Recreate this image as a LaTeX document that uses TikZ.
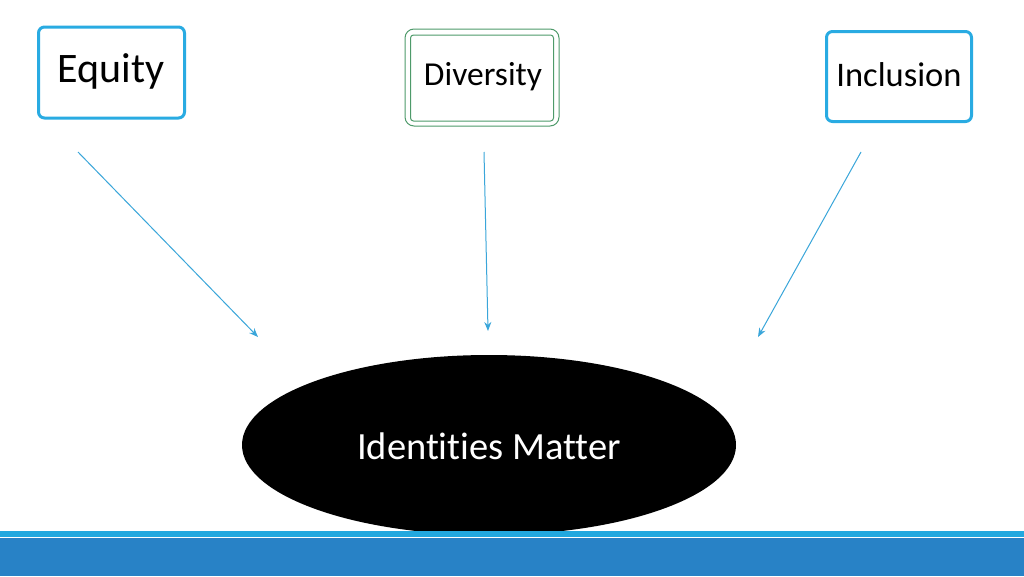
\documentclass[tikz,border=0pt]{standalone}
\usepackage{fontspec}
\setmainfont[Ligatures=NoCommon]{Carlito}
\usetikzlibrary{arrows.meta}
\definecolor{cyanline}{HTML}{29ABE2}
\definecolor{greenline}{HTML}{4E9A6A}
\definecolor{arrowc}{HTML}{3AA6DA}
\definecolor{barblue}{HTML}{2882C6}
\definecolor{barcyan}{HTML}{22A8DF}
\tikzset{
  cyanbox/.style={draw=cyanline, line width=3pt, rounded corners=6pt, fill=white},
  conn/.style={draw=arrowc, line width=1pt, -{Stealth[length=9pt,width=7pt]}},
}
\begin{document}
\begin{tikzpicture}[x=1pt,y=-1pt]
\useasboundingbox (0,0) rectangle (1024,576);
\fill[white] (0,0) rectangle (1024,576);
% boxes
\node[cyanbox, minimum width=146pt, minimum height=91pt, anchor=center] (eq) at (111.5,72.5) {};
\node[font=\fontsize{42}{44}\selectfont, anchor=center] (eqt) at (111,71) {Equity};
\node[draw=greenline, line width=1pt, rounded corners=9pt, minimum width=154pt, minimum height=97pt] (div) at (482,77.5) {};
\node[draw=greenline, line width=1pt, rounded corners=3pt, minimum width=143pt, minimum height=86pt] (divin) at (482,78) {};
\node[font=\fontsize{33.5}{35}\selectfont] (divt) at (483,77) {Diversity};
\node[cyanbox, minimum width=145pt, minimum height=90pt] (inc) at (899,76.5) {};
\node[font=\fontsize{34.5}{36}\selectfont] (inct) at (899,75) {Inclusion};
% arrow coordinates
\coordinate (a1) at (78,152);
\coordinate (b1) at (258,337);
\coordinate (a2) at (484,152);
\coordinate (b2) at (488,331);
\coordinate (a3) at (861,152);
\coordinate (b3) at (758,337);
\draw[conn] (a1) -- (b1);
\draw[conn] (a2) -- (b2);
\draw[conn] (a3) -- (b3);
% ellipse
\fill[black] (489,445) ellipse [x radius=247, y radius=90];
\node[text=white, font=\fontsize{38.5}{40}\selectfont] (id) at (489,446) {Identities Matter};
% bottom bar
\fill[barcyan] (0,531) rectangle (1024,537);
\fill[barblue] (0,538) rectangle (1024,576);
\end{tikzpicture}
\end{document}
